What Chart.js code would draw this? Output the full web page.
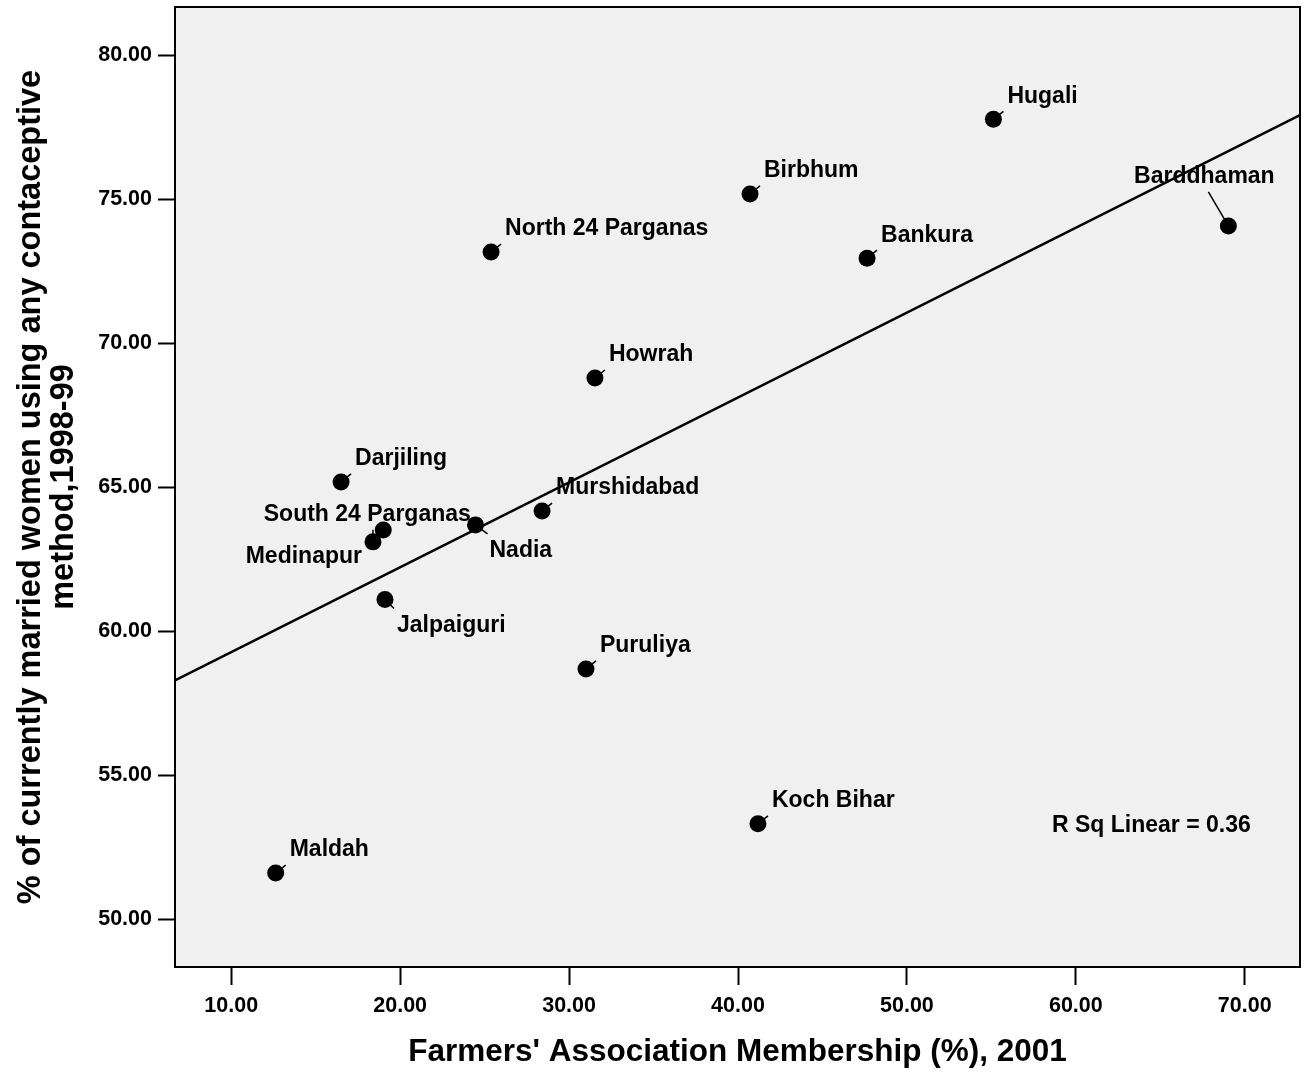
<!DOCTYPE html>
<html>
<head>
<meta charset="utf-8">
<script src="https://cdn.jsdelivr.net/npm/chart.js@4.4.1/dist/chart.umd.min.js"></script>
<style>
  html, body { margin: 0; padding: 0; background: #fff; overflow: hidden; }
  #wrap { width: 1306px; height: 1076px; }
  canvas { display: block; }
</style>
</head>
<body>
<div id="wrap"><canvas id="chart" width="1306" height="1076"></canvas></div>
<script>
const districts = [
  "Hugali", "Birbhum", "Barddhaman", "North 24 Parganas", "Bankura",
  "Howrah", "Darjiling", "Murshidabad", "Nadia", "South 24 Parganas",
  "Medinapur", "Jalpaiguri", "Puruliya", "Koch Bihar", "Maldah",
];
const membership = [
  55.12, 40.71, 69.03, 25.38, 47.64,
  31.53, 16.50, 28.40, 24.46, 19.00,
  18.39, 19.10, 31.00, 41.18, 12.63,
];
const contraceptive = [
  77.77, 75.18, 74.07, 73.16, 72.95,
  68.79, 65.18, 64.17, 63.69, 63.51,
  63.10, 61.10, 58.69, 53.31, 51.60,
];
const xTicks = [10, 20, 30, 40, 50, 60, 70];
const yTicks = [50, 55, 60, 65, 70, 75, 80];
const fitX = [6.67, 73.27];
const fitY = [58.29, 77.92];
const rSquared = 0.36;

const FONT = '"Liberation Sans", Arial, Helvetica, sans-serif';

// where each label sits relative to its dot: [dx, dy, align, leaderDx, leaderDy]
const DEFAULT_PLACEMENT = [14, -23, "left", 10, -8];
const labelPlacement = {
  "Barddhaman": [-24, -49, "center", -20, -34],
  "Nadia": [14, 26, "left", 12, 9],
  "Jalpaiguri": [12, 26, "left", 9, 9],
  "South 24 Parganas": [-16, -15, "center"],
  "Medinapur": [-11, 15, "right", 0, -12],
};

const plotFrame = {
  id: "plotFrame",
  beforeDraw(chart) {
    const { ctx, chartArea: a } = chart;
    ctx.save();
    ctx.fillStyle = "#f0f0f0";
    ctx.fillRect(a.left, a.top, a.right - a.left, a.bottom - a.top);
    ctx.restore();
  },
  afterDraw(chart) {
    const { ctx, chartArea: a } = chart;
    ctx.save();
    ctx.strokeStyle = "#000";
    ctx.lineWidth = 2;
    ctx.strokeRect(a.left, a.top, a.right - a.left, a.bottom - a.top);
    ctx.restore();
  },
};

const pointLabels = {
  id: "pointLabels",
  afterDatasetsDraw(chart) {
    const { ctx, chartArea: a } = chart;
    const meta = chart.getDatasetMeta(1);
    ctx.save();
    ctx.font = `bold 23px ${FONT}`;
    ctx.fillStyle = "#000";
    ctx.strokeStyle = "#000";
    ctx.lineWidth = 1.5;
    ctx.textBaseline = "middle";
    meta.data.forEach((pt, i) => {
      const [dx, dy, align, lx, ly] = labelPlacement[districts[i]] || DEFAULT_PLACEMENT;
      if (lx !== undefined) {
        ctx.beginPath();
        ctx.moveTo(pt.x, pt.y);
        ctx.lineTo(pt.x + lx, pt.y + ly);
        ctx.stroke();
      }
      ctx.textAlign = align;
      ctx.fillText(districts[i], pt.x + dx, pt.y + dy);
    });

    ctx.textAlign = "left";
    ctx.fillText(`R Sq Linear = ${rSquared.toFixed(2)}`, a.right - 248, a.bottom - 141);
    ctx.restore();
  },
};

function axisTicks(values) {
  return (scale) => {
    scale.ticks = values.map((v) => ({ value: v }));
  };
}

// fixed axis box, and no extra room for edge labels
function fixBox(size) {
  return (s) => {
    if (s.isHorizontal()) s.height = size;
    else s.width = size;
    s.paddingTop = s.paddingBottom = s.paddingLeft = s.paddingRight = 0;
  };
}

const tickFont = { family: FONT, size: 21.5, weight: "bold" };

new Chart(document.getElementById("chart"), {
  type: "scatter",
  data: {
    datasets: [
      {
        type: "line",
        data: fitX.map((x, i) => ({ x, y: fitY[i] })),
        borderColor: "#000",
        borderWidth: 2.5,
        pointRadius: 0,
        fill: false,
      },
      {
        data: membership.map((x, i) => ({ x, y: contraceptive[i] })),
        backgroundColor: "#000",
        borderWidth: 0,
        pointRadius: 8.5,
      },
    ],
  },
  options: {
    responsive: false,
    animation: false,
    devicePixelRatio: 1,
    layout: { autoPadding: false, padding: { top: 7, right: 6, bottom: 0, left: 0 } },
    plugins: { legend: { display: false }, tooltip: { enabled: false } },
    scales: {
      x: {
        type: "linear",
        position: "bottom",
        min: 6.67,
        max: 73.27,
        afterBuildTicks: axisTicks(xTicks),
        afterFit: fixBox(109),
        grid: { drawOnChartArea: false, drawTicks: true, tickLength: 18, tickWidth: 2, tickColor: "#000" },
        border: { display: true, color: "#000", width: 2 },
        ticks: { color: "#000", padding: 8, font: tickFont, maxRotation: 0, autoSkip: false,
          callback: (v) => Number(v).toFixed(2) },
        title: { display: true, text: "Farmers' Association Membership (%), 2001", color: "#000",
          font: { family: FONT, size: 31.5, weight: "bold", lineHeight: 1.2 }, padding: { top: 0, bottom: 5 } },
      },
      y: {
        type: "linear",
        position: "left",
        min: 48.34,
        max: 81.67,
        afterBuildTicks: axisTicks(yTicks),
        afterFit: fixBox(175),
        grid: { drawOnChartArea: false, drawTicks: true, tickLength: 17, tickWidth: 2, tickColor: "#000" },
        border: { display: true, color: "#000", width: 2 },
        ticks: { color: "#000", padding: 6, font: tickFont, autoSkip: false,
          callback: (v) => Number(v).toFixed(2) },
        title: { display: true, color: "#000", padding: { top: 14, bottom: 0 },
          font: { family: FONT, size: 32.5, weight: "bold", lineHeight: 1.02 },
          text: ["% of currently married women using any contaceptive", "method,1998-99"] },
      },
    },
  },
  plugins: [plotFrame, pointLabels],
});
</script>
</body>
</html>
